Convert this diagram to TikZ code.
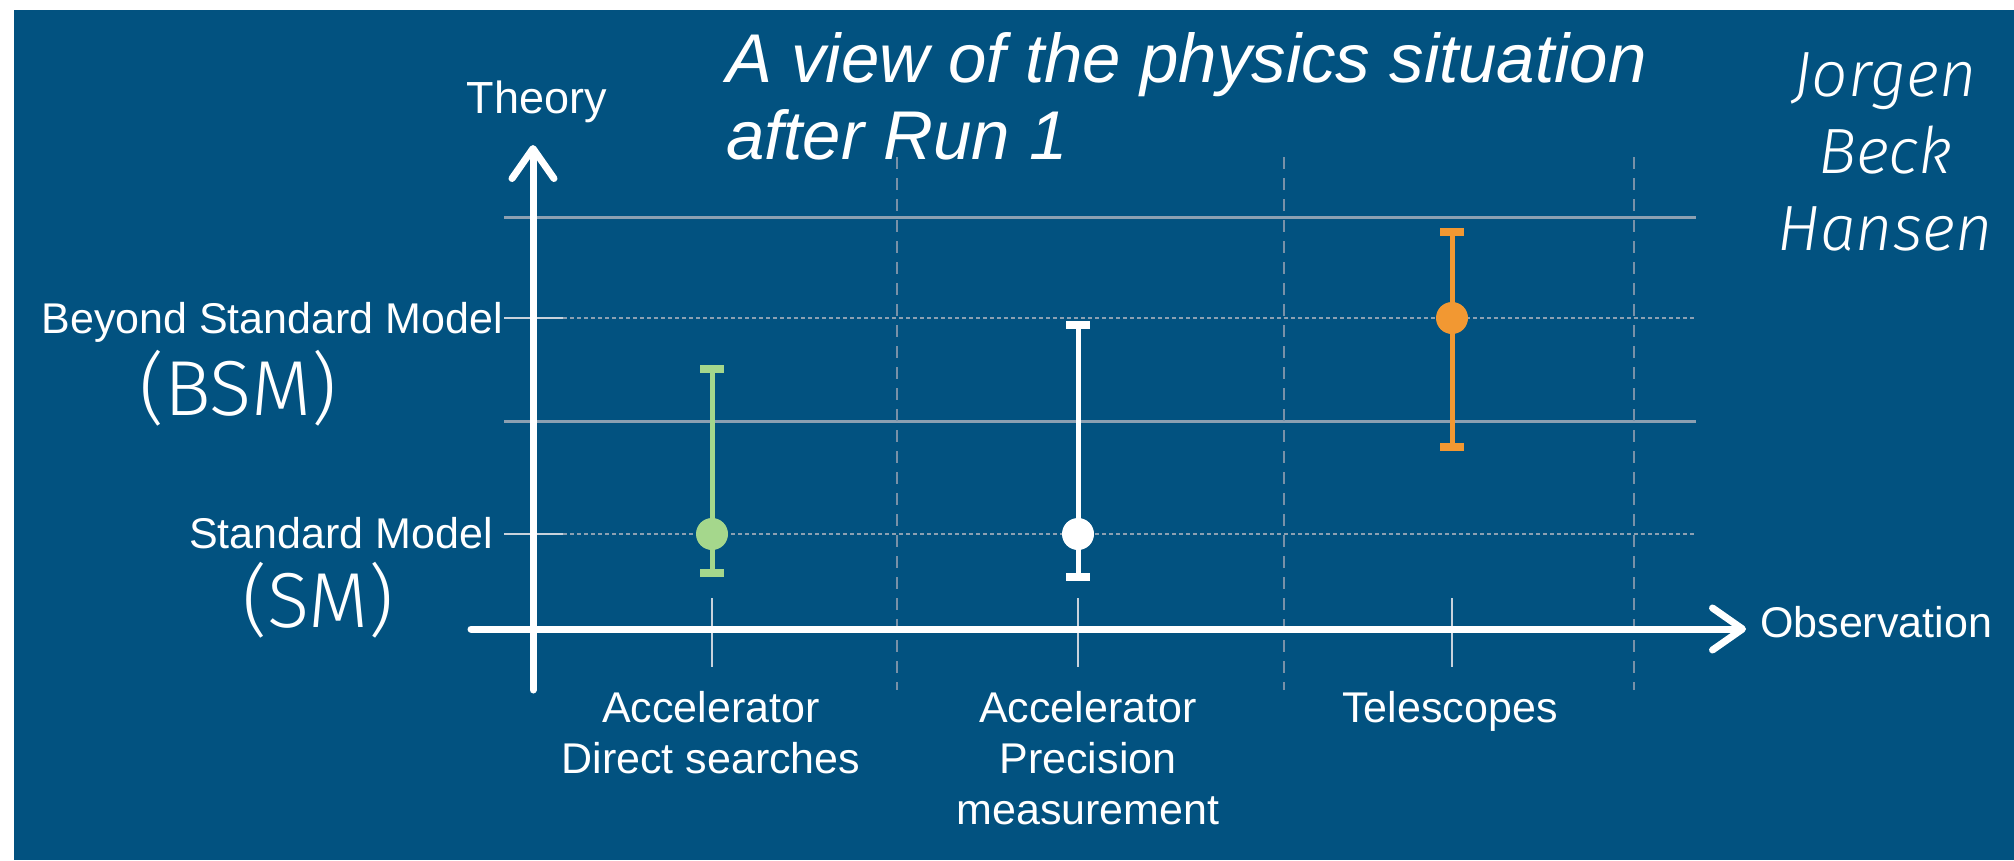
\documentclass[tikz,border=0pt]{standalone}
\usepackage{fontspec}
\setmainfont{Liberation Sans}
\IfFontExistsTF{Fira Sans Light}{%
  \newfontfamily\thinfont{Fira Sans Light}[ItalicFont={Fira Sans Light Italic}]}{%
  \IfFontExistsTF{Lato Light}{%
    \newfontfamily\thinfont{Lato Light}[ItalicFont={Lato Light Italic}]}{%
    \newfontfamily\thinfont{Liberation Sans}}}
\usetikzlibrary{arrows.meta}
\definecolor{bgblue}{RGB}{2,82,128}
\definecolor{gridgrey}{RGB}{140,160,178}
\definecolor{dashgrey}{RGB}{120,145,168}
\definecolor{tickgrey}{RGB}{200,210,220}
\definecolor{barGreen}{RGB}{165,215,140}
\definecolor{barOrange}{RGB}{242,152,50}
\begin{document}
\begin{tikzpicture}[x=1pt,y=-1pt,
  lbl/.style={text=white, inner sep=0pt, font=\fontsize{43}{51}\selectfont, align=center},
  thinlbl/.style={text=white, inner sep=0pt, font=\thinfont\fontsize{78}{88}\selectfont, align=center},
  authorlbl/.style={text=white, inner sep=0pt, font=\thinfont\itshape\fontsize{64}{77}\selectfont, align=center},
  titlelbl/.style={text=white, inner sep=0pt, font=\itshape\fontsize{69}{77}\selectfont, align=left},
  axisline/.style={draw=white, line width=7pt, line cap=round, -{Straight Barb[length=30pt,width=42pt,round]}},
  gridsolid/.style={draw=gridgrey, line width=3pt},
  griddash/.style={draw=gridgrey, line width=1.5pt, dash pattern=on 4pt off 3pt},
  vdash/.style={draw=dashgrey, line width=2.5pt, dash pattern=on 12pt off 9pt},
  tickline/.style={draw=tickgrey, line width=2.5pt},
  bar/.style={line width=5pt},
  barcap/.style={line width=8pt},
  dot/.style={circle, inner sep=0pt, minimum size=32pt}
]
\useasboundingbox (0,0) rectangle (2014,860);
\fill[white] (0,0) rectangle (2014,860);
\fill[bgblue] (14,10) rectangle (2014,860);

% horizontal grid
\draw[gridsolid] (504,217) -- (1696,217);
\draw[gridsolid] (504,421) -- (1696,421);
\draw[griddash] (563,318) -- (1696,318);
\draw[griddash] (563,534) -- (1696,534);
\draw[tickline] (504,318) -- (563,318);
\draw[tickline] (504,534) -- (563,534);

% vertical dashed separators
\draw[vdash] (897,157) -- (897,690);
\draw[vdash] (1284,157) -- (1284,690);
\draw[vdash] (1634,157) -- (1634,690);

% x ticks
\draw[tickline] (712,598) -- (712,667);
\draw[tickline] (1078,598) -- (1078,667);
\draw[tickline] (1452,598) -- (1452,667);

% axes
\coordinate (ybot) at (533,690);
\coordinate (ytop) at (533,145);
\coordinate (xleft) at (471,629);
\coordinate (xright) at (1746,629);
\draw[axisline] (ybot) -- (ytop);
\draw[axisline] (xleft) -- (xright);

% axis labels
\node[lbl, font=\fontsize{45}{51}\selectfont, anchor=base] (theory) at (537,113) {Theory};
\node[lbl, anchor=base west] (obs) at (1760,637) {Observation};
\node[lbl, anchor=base east] (bsm) at (503,333) {Beyond Standard Model};
\node[thinlbl] (bsmabbr) at (238,388) {(BSM)};
\node[lbl, anchor=base east] (sm) at (493,548) {Standard Model};
\node[thinlbl] (smabbr) at (318,600) {(SM)};

% category labels
\node[lbl, anchor=north] (cat1) at (711,691) {Accelerator\\Direct searches};
\node[lbl, anchor=north] (cat2) at (1088,691) {Accelerator\\Precision\\measurement};
\node[lbl, anchor=north] (cat3) at (1450,691) {Telescopes};

% error bars
\draw[bar, barGreen] (712,369) -- (712,573);
\draw[barcap, barGreen] (700,369) -- (724,369);
\draw[barcap, barGreen] (700,573) -- (724,573);
\node[dot, fill=barGreen] (d1) at (712,534) {};

\draw[bar, white] (1078,325) -- (1078,577);
\draw[barcap, white] (1066,325) -- (1090,325);
\draw[barcap, white] (1066,577) -- (1090,577);
\node[dot, fill=white] (d2) at (1078,534) {};

\draw[bar, barOrange] (1452,232) -- (1452,447);
\draw[barcap, barOrange] (1440,232) -- (1464,232);
\draw[barcap, barOrange] (1440,447) -- (1464,447);
\node[dot, fill=barOrange] (d3) at (1452,318) {};

% title and author
\node[titlelbl, anchor=north west] (title) at (726,32) {A view of the physics situation\\after Run 1};
\node[authorlbl, anchor=north] (author) at (1885,52) {Jorgen\\Beck\\Hansen};
\end{tikzpicture}
\end{document}
